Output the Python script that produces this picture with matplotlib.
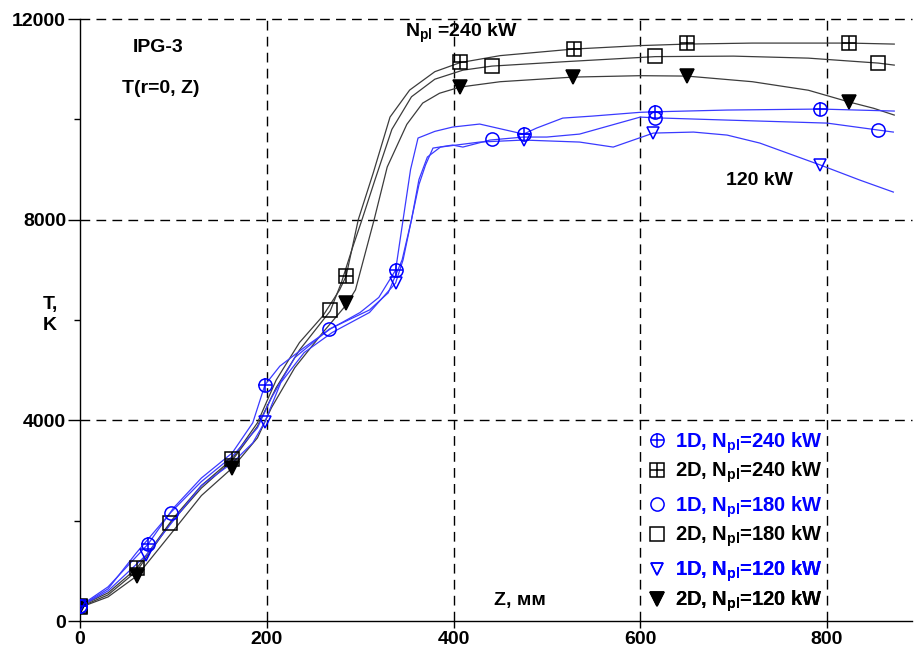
import matplotlib
matplotlib.use("Agg")
import matplotlib.pyplot as plt
from matplotlib.lines import Line2D

plt.rcParams['font.family'] = ['Liberation Sans', 'DejaVu Sans']
plt.rcParams['font.weight'] = 'bold'
plt.rcParams['mathtext.fontset'] = 'custom'
plt.rcParams['mathtext.rm'] = 'Liberation Sans:bold'
plt.rcParams['mathtext.it'] = 'Liberation Sans:bold'
plt.rcParams['mathtext.bf'] = 'Liberation Sans:bold'

# ---------------- data (Z in mm, T in K) ----------------
# 2D, 240 kW
z_2d_240 = [0, 30, 61, 100, 130, 163, 190, 210, 235, 260, 278, 285, 298, 314, 332, 353, 380, 407, 450, 528, 600, 650, 720, 824, 872]
t_2d_240 = [300, 560, 1056, 2050, 2700, 3229, 3950, 4800, 5550, 6080, 6600, 6876, 8000, 8930, 10045, 10583, 10950, 11130, 11270, 11400, 11470, 11500, 11520, 11520, 11500]
# 2D, 180 kW
z_2d_180 = [0, 30, 61, 97, 130, 163, 190, 210, 235, 268, 280, 292, 302, 316, 334, 355, 380, 410, 441, 520, 616, 700, 780, 855, 872]
t_2d_180 = [280, 520, 1000, 1953, 2650, 3200, 3880, 4650, 5400, 6180, 6750, 7450, 8000, 8800, 9800, 10450, 10800, 10980, 11061, 11150, 11250, 11260, 11220, 11121, 11081]
# 2D, 120 kW
z_2d_120 = [0, 30, 61, 100, 130, 163, 190, 205, 230, 260, 285, 295, 305, 315, 329, 350, 367, 385, 407, 450, 528, 600, 650, 720, 780, 824, 850, 872]
t_2d_120 = [270, 480, 900, 1800, 2500, 3049, 3650, 4250, 5050, 5750, 6298, 6600, 7300, 8000, 9050, 9900, 10324, 10520, 10643, 10750, 10842, 10870, 10862, 10750, 10580, 10344, 10220, 10085]
# 1D, 240 kW
z_1d_240 = [0, 30, 73, 100, 130, 163, 185, 198, 214, 240, 268, 300, 320, 338, 346, 354, 362, 380, 399, 428, 475, 489, 517, 549, 600, 616, 693, 793, 872]
t_1d_240 = [300, 680, 1535, 2250, 2850, 3350, 3950, 4704, 5080, 5450, 5820, 6150, 6450, 6995, 8000, 9000, 9627, 9760, 9846, 9906, 9706, 9826, 10025, 10065, 10140, 10150, 10185, 10205, 10165]
# 1D, 180 kW
z_1d_180 = [0, 30, 60, 97, 130, 163, 190, 205, 230, 267, 310, 330, 345, 355, 363, 370, 378, 399, 410, 439, 475, 500, 535, 600, 616, 693, 800, 855, 871]
t_1d_180 = [290, 640, 1350, 2159, 2780, 3280, 3850, 4450, 5250, 5820, 6200, 6540, 7200, 8000, 8700, 9088, 9427, 9487, 9447, 9587, 9647, 9647, 9706, 10045, 10030, 9985, 9925, 9786, 9746]
# 1D, 120 kW
z_1d_120 = [0, 30, 71, 100, 130, 163, 185, 198, 215, 240, 270, 310, 338, 346, 355, 363, 372, 386, 428, 475, 535, 571, 614, 657, 693, 728, 793, 835, 871]
t_1d_120 = [290, 600, 1316, 2000, 2700, 3150, 3550, 3972, 4750, 5350, 5750, 6150, 6737, 7200, 8000, 8800, 9248, 9447, 9547, 9587, 9547, 9447, 9726, 9746, 9686, 9527, 9088, 8790, 8550]

# marker points
mz_2d_240 = [0, 61, 163, 285, 407, 529, 650, 824]
mt_2d_240 = [290, 1056, 3229, 6876, 11141, 11400, 11520, 11520]
mz_2d_180 = [0, 96, 268, 441, 616, 855]
mt_2d_180 = [280, 1953, 6200, 11061, 11261, 11121]
mz_2d_120 = [0, 61, 163, 285, 407, 528, 650, 824]
mt_2d_120 = [270, 900, 3049, 6338, 10643, 10842, 10862, 10344]
mz_1d_240 = [0, 73, 198, 338, 475, 616, 793]
mt_1d_240 = [300, 1535, 4704, 6995, 9706, 10150, 10205]
mz_1d_180 = [0, 97, 267, 441, 616, 855]
mt_1d_180 = [290, 2159, 5820, 9607, 10030, 9786]
mz_1d_120 = [0, 71, 198, 338, 475, 614, 793]
mt_1d_120 = [290, 1316, 3972, 6737, 9587, 9726, 9088]

x_ticks = [0, 200, 400, 600, 800]
y_ticks = [0, 4000, 8000, 12000]
y_minor = [2000, 6000, 10000]

# ---------------- figure ----------------
fig = plt.figure(figsize=(9.15, 6.51), dpi=100)
ax = fig.add_axes([80/915, 1-621/651, (912-80)/915, (621-19)/651])
ax.set_xlim(0, 891)
ax.set_ylim(0, 12000)

BLUE = '#0000ff'
BLUE_LINE = '#3a3aff'
GRAY = '#3c3c3c'

for z, t in [(z_2d_240, t_2d_240), (z_2d_180, t_2d_180), (z_2d_120, t_2d_120)]:
    ax.plot(z, t, color=GRAY, lw=0.9, zorder=3)
for z, t in [(z_1d_240, t_1d_240), (z_1d_180, t_1d_180), (z_1d_120, t_1d_120)]:
    ax.plot(z, t, color=BLUE_LINE, lw=0.9, zorder=3)

ms = 9.5
mew = 1.1
# 2D markers
ax.plot(mz_2d_240, mt_2d_240, ls='none', marker='s', ms=ms, mfc='none', mec='black', mew=mew, zorder=4)
ax.plot(mz_2d_240, mt_2d_240, ls='none', marker='+', ms=ms, mec='black', mew=mew, zorder=4)
ax.plot(mz_2d_180, mt_2d_180, ls='none', marker='s', ms=ms, mfc='none', mec='black', mew=mew, zorder=4)
ax.plot(mz_2d_120, mt_2d_120, ls='none', marker='v', ms=ms, mfc='black', mec='black', mew=mew, zorder=4)
# 1D markers
ax.plot(mz_1d_240, mt_1d_240, ls='none', marker='o', ms=ms, mfc='none', mec=BLUE, mew=mew, zorder=5)
ax.plot(mz_1d_240, mt_1d_240, ls='none', marker='+', ms=ms, mec=BLUE, mew=mew, zorder=5)
ax.plot(mz_1d_180, mt_1d_180, ls='none', marker='o', ms=ms, mfc='none', mec=BLUE, mew=mew, zorder=5)
ax.plot(mz_1d_120, mt_1d_120, ls='none', marker='v', ms=ms - 0.5, mfc='none', mec=BLUE, mew=mew, zorder=5)

# grid
dash = (0, (7, 4.5))
for xv in x_ticks[1:]:
    ax.axvline(xv, color='black', lw=1.0, ls=dash, zorder=1)
for yv in y_ticks[1:]:
    ax.axhline(yv, color='black', lw=1.0, ls=dash, zorder=1, clip_on=False)

ax.spines['top'].set_visible(False)
ax.spines['right'].set_visible(False)
ax.spines['left'].set_linewidth(1.0)
ax.spines['bottom'].set_linewidth(1.0)

ax.set_xticks(x_ticks)
ax.set_yticks(y_ticks)
ax.set_yticks(y_minor, minor=True)
ax.set_xticklabels([str(v) for v in x_ticks])
ax.set_yticklabels([str(v) for v in y_ticks])
ax.tick_params(axis='x', direction='out', length=5, width=1, pad=2, labelsize=14)
ax.tick_params(axis='y', direction='out', length=9, width=1, pad=1, labelsize=14)
ax.tick_params(axis='y', which='minor', direction='out', length=4, width=1)
for lab in ax.get_xticklabels() + ax.get_yticklabels():
    lab.set_fontweight('bold')

# annotations
FS = 14
ax.text(83.5, 11440, 'IPG-3', ha='center', va='center', fontsize=FS, fontweight='bold')
ax.text(86, 10623, 'T(r=0, Z)', ha='center', va='center', fontsize=FS, fontweight='bold')
ax.text(348, 11720, r'N$_{pl}$ =240 kW', ha='left', va='center', fontsize=FS, fontweight='bold')
ax.text(728, 8790, '120 kW', ha='center', va='center', fontsize=FS, fontweight='bold')
ax.text(471, 400, 'Z, мм', ha='center', va='center', fontsize=FS, fontweight='bold')
ax.text(-32, 6100, 'T,\nK', ha='center', va='center', fontsize=FS, fontweight='bold', linespacing=1.25)

# legend (three groups)
groups = [
    [((Line2D([], [], ls='none', marker='o', ms=ms, mfc='none', mec=BLUE, mew=mew),
       Line2D([], [], ls='none', marker='+', ms=ms, mec=BLUE, mew=mew)), r'1D, N$_{pl}$=240 kW', BLUE),
     ((Line2D([], [], ls='none', marker='s', ms=ms, mfc='none', mec='black', mew=mew),
       Line2D([], [], ls='none', marker='+', ms=ms, mec='black', mew=mew)), r'2D, N$_{pl}$=240 kW', 'black')],
    [(Line2D([], [], ls='none', marker='o', ms=ms, mfc='none', mec=BLUE, mew=mew), r'1D, N$_{pl}$=180 kW', BLUE),
     (Line2D([], [], ls='none', marker='s', ms=ms, mfc='none', mec='black', mew=mew), r'2D, N$_{pl}$=180 kW', 'black')],
    [(Line2D([], [], ls='none', marker='v', ms=ms - 0.5, mfc='none', mec=BLUE, mew=mew), r'1D, N$_{pl}$=120 kW', BLUE),
     (Line2D([], [], ls='none', marker='v', ms=ms, mfc='black', mec='black', mew=mew), r'2D, N$_{pl}$=120 kW', 'black')],
]
tops = [430, 494, 559]
for g, top in zip(groups, tops):
    leg = ax.legend([h for h, _, _ in g], [l for _, l, _ in g], loc='upper left',
                    bbox_to_anchor=(647/915, 1-top/651), bbox_transform=fig.transFigure,
                    frameon=False, fontsize=14.5, handlelength=1.0, handletextpad=0.4,
                    labelspacing=0.22, borderaxespad=0, borderpad=0)
    for txt, (_, _, c) in zip(leg.get_texts(), g):
        txt.set_color(c)
        txt.set_fontweight('bold')
    ax.add_artist(leg)

fig.savefig('out.png', dpi=100)
